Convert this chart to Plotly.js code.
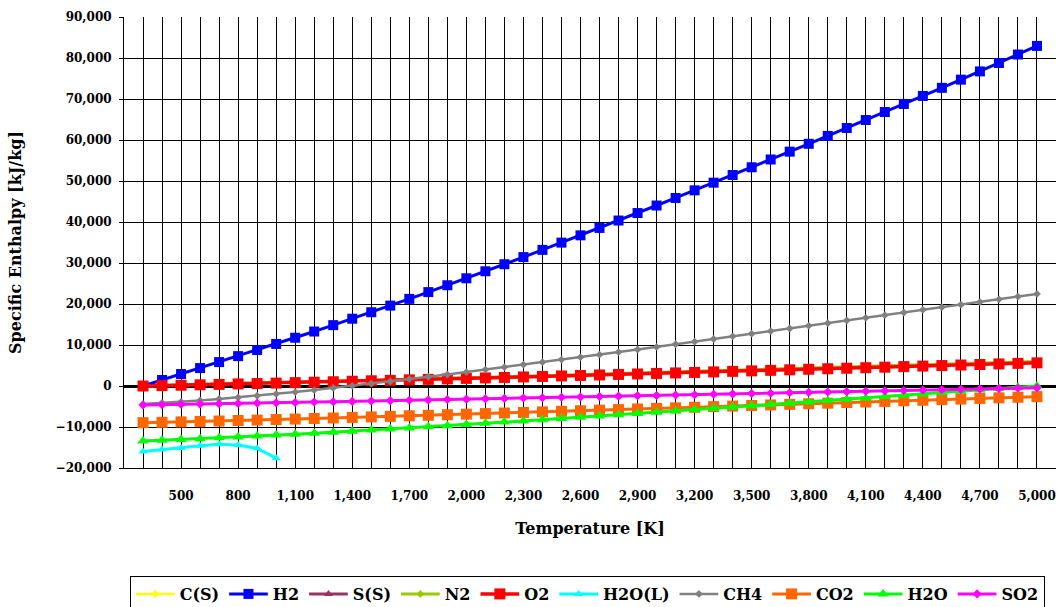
<!DOCTYPE html>
<html>
<head>
<meta charset="utf-8">
<script src="https://cdn.plot.ly/plotly-3.0.1.min.js"></script>
<style>html,body{margin:0;padding:0;background:#fff;}#chart{width:1059px;height:607px;}</style>
</head>
<body>
<div id="chart"></div>
<script>
// Temperature categories [K]
const T = [300, 400, 500, 600, 700, 800, 900, 1000, 1100, 1200, 1300, 1400, 1500, 1600, 1700, 1800, 1900, 2000,
  2100, 2200, 2300, 2400, 2500, 2600, 2700, 2800, 2900, 3000, 3100, 3200, 3300, 3400, 3500, 3600, 3700, 3800, 3900, 4000,
  4100, 4200, 4300, 4400, 4500, 4600, 4700, 4800, 4900, 5000];
const T_CS = [300, 400, 500, 600, 700, 800, 900, 1000];
const T_SS = [300];
const T_H2OL = [300, 400, 500, 600, 700, 800, 900, 1000];
const xTickVals = [500, 800, 1100, 1400, 1700, 2000, 2300, 2600, 2900, 3200, 3500, 3800, 4100, 4400, 4700, 5000];

// Specific enthalpy [kJ/kg]
const CS = [0, 90, 200, 330, 480, 640, 810, 990];
const H2 = [0, 1470, 2920, 4370, 5830, 7290, 8770, 10260, 11770, 13290, 14840, 16410, 18000, 19610, 21250, 22900, 24570, 26270,
  27980, 29700, 31440, 33200, 34970, 36750, 38550, 40360, 42180, 44020, 45860, 47720, 49590, 51460, 53350, 55250, 57160, 59070, 61000, 62930,
  64870, 66830, 68790, 70750, 72730, 74720, 76730, 78780, 80850, 82950];
const SS = [0];
const N2 = [0, 110, 210, 320, 430, 540, 650, 770, 880, 1000, 1120, 1250, 1370, 1500, 1620, 1750, 1880, 2000,
  2130, 2260, 2390, 2520, 2650, 2780, 2910, 3050, 3180, 3310, 3440, 3570, 3710, 3840, 3970, 4110, 4240, 4370, 4510, 4640,
  4780, 4910, 5050, 5180, 5310, 5450, 5580, 5720, 5850, 5990];
const O2 = [0, 100, 190, 290, 390, 500, 600, 710, 820, 930, 1040, 1160, 1270, 1380, 1500, 1620, 1730, 1850,
  1970, 2090, 2210, 2330, 2450, 2570, 2690, 2820, 2940, 3060, 3190, 3310, 3440, 3570, 3690, 3820, 3950, 4080, 4210, 4340,
  4460, 4590, 4730, 4860, 4990, 5120, 5250, 5380, 5520, 5650];
const H2OL = [-16000, -15500, -15100, -14550, -14200, -14400, -15200, -17600];
const CH4 = [-4400, -4150, -3860, -3530, -3170, -2780, -2380, -1940, -1470, -990, -480, 40, 580, 1100, 1660, 2230, 2810, 3400,
  4000, 4600, 5210, 5820, 6440, 7020, 7640, 8270, 8900, 9540, 10180, 10820, 11460, 12110, 12760, 13370, 14020, 14670, 15320, 15970,
  16620, 17270, 17920, 18570, 19220, 19830, 20480, 21140, 21800, 22460];
const CO2 = [-8940, -8850, -8750, -8650, -8540, -8420, -8310, -8180, -8060, -7930, -7800, -7670, -7540, -7410, -7270, -7140, -7000, -6860,
  -6730, -6590, -6450, -6310, -6170, -6030, -5890, -5750, -5610, -5470, -5330, -5190, -5040, -4900, -4760, -4620, -4470, -4330, -4190, -4040,
  -3900, -3760, -3610, -3470, -3320, -3180, -3030, -2890, -2740, -2600];
const H2O = [-13420, -13230, -13040, -12840, -12640, -12430, -12210, -11980, -11750, -11510, -11260, -11010, -10750, -10490, -10220, -9940, -9670, -9380,
  -9100, -8810, -8520, -8220, -7920, -7620, -7320, -7010, -6710, -6400, -6090, -5780, -5460, -5150, -4830, -4520, -4200, -3880, -3560, -3230,
  -2910, -2590, -2260, -1940, -1610, -1290, -960, -630, -300, 30];
const SO2 = [-4630, -4570, -4500, -4420, -4340, -4260, -4180, -4100, -4010, -3920, -3840, -3750, -3660, -3570, -3480, -3390, -3300, -3210,
  -3120, -3030, -2940, -2850, -2760, -2670, -2570, -2480, -2390, -2300, -2210, -2120, -2020, -1930, -1840, -1750, -1650, -1560, -1470, -1380,
  -1280, -1190, -1100, -1010, -910, -820, -730, -640, -540, -450];

const FONT = 'DejaVu Serif';

function tr(name, x, y, color, symbol, msize, lw) {
  return {
    type: 'scatter', mode: 'lines+markers', name: name, x: x, y: y,
    line: {color: color, width: lw},
    marker: {color: color, symbol: symbol, size: msize, line: {width: 0}}
  };
}

const data = [
  tr('C(S)', T_CS, CS, '#FFFF00', 'diamond', 6, 2.5),
  tr('H2', T, H2, '#0000FF', 'square', 10, 3),
  tr('S(S)', T_SS, SS, '#993366', 'triangle-up', 8, 3),
  tr('N2', T, N2, '#99CC00', 'diamond', 6, 3),
  tr('O2', T, O2, '#FF0000', 'square', 11, 3.5),
  tr('H2O(L)', T_H2OL, H2OL, '#00FFFF', 'triangle-up', 8, 3),
  tr('CH4', T, CH4, '#808080', 'diamond', 6, 2.5),
  tr('CO2', T, CO2, '#FF6600', 'square', 11, 3),
  tr('H2O', T, H2O, '#00FF00', 'triangle-up', 10, 3),
  tr('SO2', T, SO2, '#FF00FF', 'diamond', 7, 3)
];

const layout = {
  width: 1059, height: 607,
  margin: {l: 124, r: 3, t: 17, b: 139},
  paper_bgcolor: '#fff', plot_bgcolor: '#fff',
  font: {family: FONT, color: '#000'},
  showlegend: true,
  xaxis: {
    range: [200, 5100],
    tickmode: 'array', tickvals: xTickVals, tickformat: ',d',
    ticks: '', showgrid: true, gridcolor: '#000', gridwidth: 1,
    minor: {tick0: 0, dtick: 100, showgrid: true, gridcolor: '#000', gridwidth: 1, ticks: ''},
    showline: true, linecolor: '#000', linewidth: 1,
    zeroline: false,
    tickfont: {family: FONT, size: 12, color: '#000', weight: 'bold'},
    ticklabelstandoff: 17,
    title: {text: 'Temperature [K]', font: {family: FONT, size: 16, color: '#000', weight: 'bold'}, standoff: 20}
  },
  yaxis: {
    range: [-20000, 90000], dtick: 10000, tickformat: ',d',
    showgrid: true, gridcolor: '#000', gridwidth: 1,
    zeroline: true, zerolinecolor: '#000', zerolinewidth: 3,
    showline: true, linecolor: '#000', linewidth: 1,
    ticks: 'outside', ticklen: 4, tickcolor: '#000',
    tickfont: {family: FONT, size: 12, color: '#000', weight: 'bold'},
    ticklabelstandoff: 5,
    title: {text: 'Specific Enthalpy [kJ/kg]', font: {family: FONT, size: 16, color: '#000', weight: 'bold'}, standoff: 30}
  },
  legend: {
    orientation: 'h', xref: 'container', yref: 'container',
    x: 130 / 1059, xanchor: 'left', y: 31 / 607, yanchor: 'top',
    bordercolor: '#000', borderwidth: 1, bgcolor: '#fff',
    font: {family: FONT, size: 16, color: '#000', weight: 'bold'},
    traceorder: 'normal', itemwidth: 38.7
  }
};

Plotly.newPlot('chart', data, layout, {displayModeBar: false, staticPlot: true});
</script>
</body>
</html>
